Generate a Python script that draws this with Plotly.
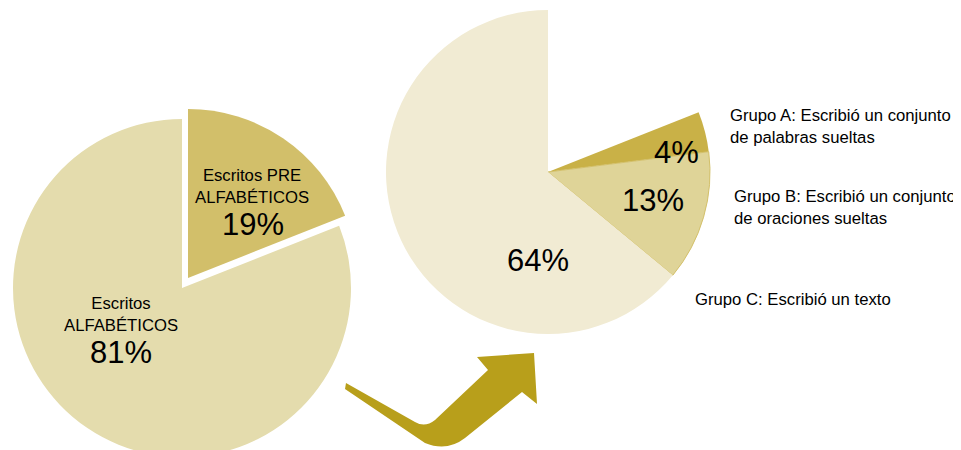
import plotly.graph_objects as go

# ---- data ----
left_labels = ["Escritos PRE<br>ALFABÉTICOS", "Escritos<br>ALFABÉTICOS"]
left_values = [19, 81]

right_labels = ["Grupo A: Escribió un conjunto<br>de palabras sueltas",
                "Grupo B: Escribió un conjunto<br>de oraciones sueltas",
                "Grupo C: Escribió un texto"]
right_values = [4, 13, 64]

# ---- styles ----
W, H = 961, 450
OFF = 8  # page body margin: figure is drawn 8px right/down of the window corner
FONT = "Liberation Sans, Arial, Helvetica, sans-serif"
left_colors = ["#d2bf6a", "#e4dcad"]
right_colors = ["#c9b147", "#dfd498", "#f1ebd3"]
arrow_color = "#b89f1b"
TRANSP = "rgba(0,0,0,0)"


def fx(x):
    return x - OFF


def fy(y):
    return y - OFF


def dom_x(cx, r):
    return [(fx(cx) - r) / W, (fx(cx) + r) / W]


def dom_y(cy, r):
    return [1 - (fy(cy) + r) / H, 1 - (fy(cy) - r) / H]


fig = go.Figure()

# left pie: main slice and separated (pulled) slice drawn as two layers
Lcx, Lcy, Lr = 182, 288, 169
pull_dx, pull_dy = 6, -10
fig.add_trace(go.Pie(
    values=left_values, labels=left_labels, sort=False, direction="clockwise",
    rotation=0, textinfo="none", hoverinfo="skip",
    marker=dict(colors=[TRANSP, left_colors[1]], line=dict(width=0)),
    domain=dict(x=dom_x(Lcx, Lr), y=dom_y(Lcy, Lr)), showlegend=False,
))
fig.add_trace(go.Pie(
    values=left_values, labels=left_labels, sort=False, direction="clockwise",
    rotation=0, textinfo="none", hoverinfo="skip",
    marker=dict(colors=[left_colors[0], TRANSP], line=dict(width=0)),
    domain=dict(x=dom_x(Lcx + pull_dx, Lr), y=dom_y(Lcy + pull_dy, Lr)), showlegend=False,
))

# right pie: breakdown of the alphabetic group; the PRE share is left empty
Rcx, Rcy, Rr = 548, 172, 162
r_vals = [left_values[0]] + right_values
fig.add_trace(go.Pie(
    values=r_vals, labels=["PRE"] + right_labels, sort=False, direction="clockwise",
    rotation=0, textinfo="none", hoverinfo="skip",
    marker=dict(colors=[TRANSP] + right_colors,
                line=dict(color="#d3c06a", width=[0, 0, 1, 0])),
    domain=dict(x=dom_x(Rcx, Rr), y=dom_y(Rcy, Rr)), showlegend=False,
))

ann = []


def add_text(x, y, text, size, xanchor="center"):
    ann.append(dict(x=fx(x) / W, y=1 - fy(y) / H, xref="paper", yref="paper", text=text,
                    showarrow=False, xanchor=xanchor, yanchor="middle",
                    align="left" if xanchor == "left" else "center",
                    font=dict(family=FONT, size=size, color="black")))


# left pie labels
add_text(252, 186, left_labels[0], 16.7)
add_text(253, 224, f"{left_values[0]}%", 31)
add_text(121, 314, left_labels[1], 16.7)
add_text(121, 352, f"{left_values[1]}%", 31)

# right pie percentages
add_text(676, 152, f"{right_values[0]}%", 31)
add_text(653, 200, f"{right_values[1]}%", 31)
add_text(538, 260, f"{right_values[2]}%", 31)

# group labels
add_text(728, 126, right_labels[0], 16.7, "left")
add_text(732, 207, right_labels[1], 16.7, "left")
add_text(693, 299, right_labels[2], 16.7, "left")

pts = [(346, 383), (415, 422), "Q", (425, 428), (435, 420), (488, 370), (477, 357),
       (534, 353), (537, 404), (522, 392), (465, 438), "Q", (447, 452), (425, 443),
       (345, 389)]
path = "M"
first = True
mode = "L"
for p in pts:
    if p == "Q":
        mode = "Q"
        continue
    s = f"{fx(p[0])},{fy(p[1])}"
    if first:
        path += " " + s
        first = False
    elif mode == "Q":
        path += " Q " + s
        mode = "Q2"
    elif mode == "Q2":
        path += " " + s
        mode = "L"
    else:
        path += " L " + s
path += " Z"

fig.update_layout(
    width=W, height=H, margin=dict(l=0, r=0, t=0, b=0),
    paper_bgcolor="white", plot_bgcolor="white",
    xaxis=dict(range=[0, W], visible=False, fixedrange=True),
    yaxis=dict(range=[H, 0], visible=False, fixedrange=True),
    annotations=ann,
    shapes=[dict(type="path", path=path, xref="x", yref="y",
                 fillcolor=arrow_color, line=dict(width=0), layer="above")],
    showlegend=False,
)

fig.write_html("out.html")
